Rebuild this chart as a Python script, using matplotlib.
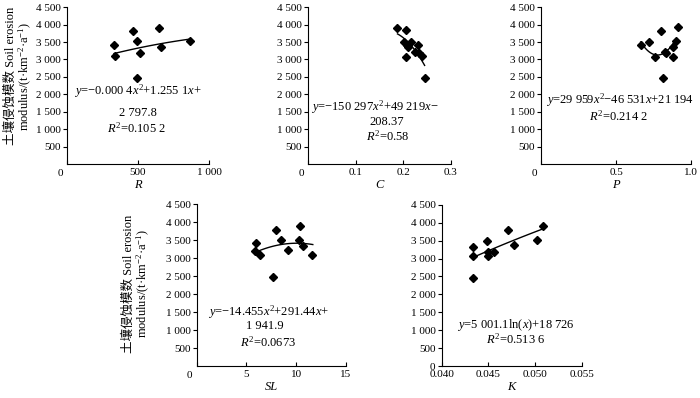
import numpy as np
import matplotlib
matplotlib.use("Agg")
import matplotlib.pyplot as plt

plt.rcParams['font.family'] = ['Liberation Serif', 'Noto Sans CJK SC']
plt.rcParams['mathtext.fontset'] = 'custom'
plt.rcParams['mathtext.rm'] = 'Liberation Serif'
plt.rcParams['mathtext.it'] = 'Liberation Serif:italic'
plt.rcParams['axes.unicode_minus'] = True

# data (soil erosion modulus vs. each factor)
r_x = [331, 341, 467, 495, 514, 491, 649, 661, 866]
r_y = [3404, 3098, 3804, 3538, 3195, 2480, 3910, 3355, 3518]

c_x = [0.188, 0.205, 0.201, 0.207, 0.210, 0.217, 0.231, 0.224, 0.233, 0.239, 0.205, 0.245]
c_y = [3907, 3832, 3498, 3424, 3360, 3500, 3424, 3215, 3180, 3090, 3069, 2480]

p_x = [0.665, 0.718, 0.758, 0.802, 0.827, 0.815, 0.878, 0.882, 0.900, 0.915, 0.835]
p_y = [3404, 3498, 3070, 3813, 3213, 2480, 3355, 3060, 3518, 3918, 3180]

sl_x = [5.94, 5.87, 6.37, 7.95, 8.49, 9.22, 10.43, 10.30, 10.73, 11.58, 7.68]
sl_y = [3407, 3192, 3081, 3785, 3490, 3212, 3896, 3498, 3331, 3081, 2460]

k_x = [0.0434, 0.0434, 0.0434, 0.0448, 0.0450, 0.0450, 0.0456, 0.0471, 0.0477, 0.0502, 0.0508]
k_y = [3331, 3061, 2460, 3490, 3173, 3061, 3173, 3805, 3379, 3507, 3896]

# trend line equations printed on the chart
r_fit = [-0.0004, 1.2551, 2797.8]
c_fit = [-150297, 49219, -208.37]
p_fit = [29959, -46531, 21194]
sl_fit = [-14.455, 291.44, 1941.9]
k_fit = [5001.1, 18726]

y_ticks = [500, 1000, 1500, 2000, 2500, 3000, 3500, 4000, 4500]
ylab = "土壤侵蚀模数 Soil erosion\nmodulus/(t·km$^{-2}$·a$^{-1}$)"
eq_size = 9


def fmt(v):
    s = f"{v:,}".replace(",", " ")
    return s


def setup(ax, xlim, xticks, xlabels, yzero=False, xname=""):
    for s in ['top', 'right']:
        ax.spines[s].set_visible(False)
    ax.set_xlim(xlim)
    ax.set_ylim(0, 4500)
    yt = ([0] if yzero else []) + y_ticks
    ax.set_yticks(yt)
    ax.set_yticklabels([fmt(v) for v in yt])
    ax.set_xticks(xticks)
    ax.set_xticklabels(xlabels)
    ax.tick_params(axis='y', direction='out', length=3, pad=1.5, labelsize=8)
    ax.tick_params(axis='x', direction='in', length=3, pad=3, labelsize=8)
    ax.set_xlabel(xname, fontsize=9, style='italic', labelpad=1)
    if not yzero:
        ax.annotate('0', xy=(0, 0), xycoords='axes fraction', xytext=(-7, -5),
                    textcoords='offset pixels', ha='center', va='top', fontsize=8)


fig = plt.figure(figsize=(7, 3.98), dpi=100)

ax1 = fig.add_axes([0.0957, 0.588, 0.203, 0.394])
ax2 = fig.add_axes([0.44, 0.588, 0.204, 0.394])
ax3 = fig.add_axes([0.773, 0.588, 0.214, 0.394])
ax4 = fig.add_axes([0.281, 0.0804, 0.213, 0.407])
ax5 = fig.add_axes([0.631, 0.0804, 0.2, 0.405])

mk = dict(marker='D', color='black', markersize=4.2, linestyle='none')

# R
ax1.plot(r_x, r_y, **mk)
xs = np.linspace(min(r_x), max(r_x), 100)
ax1.plot(xs, np.polyval(r_fit, xs), color='black', lw=1)
setup(ax1, (0, 1000), [0, 500, 1000], ['', '500', '1 000'], xname='R')
ax1.text(500, 2090, "$y$=−0.000 4$x^2$+1.255 1$x$+", ha='center', va='center', fontsize=eq_size)
ax1.text(500, 1450, "2 797.8", ha='center', va='center', fontsize=eq_size)
ax1.text(490, 1010, "$R^2$=0.105 2", ha='center', va='center', fontsize=eq_size)
ax1.set_ylabel(ylab, fontsize=9, linespacing=1.0)
ax1.yaxis.set_label_coords(-0.235, 0.56)

# C
ax2.plot(c_x, c_y, **mk)
xs = np.linspace(min(c_x), max(c_x), 100)
ax2.plot(xs, np.polyval(c_fit, xs), color='black', lw=1)
setup(ax2, (0, 0.3), [0, 0.1, 0.2, 0.3], ['', '0.1', '0.2', '0.3'], xname='C')
ax2.text(0.141, 1630, "$y$=−150 297$x^2$+49 219$x$−", ha='center', va='center', fontsize=eq_size)
ax2.text(0.166, 1210, "208.37", ha='center', va='center', fontsize=eq_size)
ax2.text(0.168, 780, "$R^2$=0.58", ha='center', va='center', fontsize=eq_size)

# P
ax3.plot(p_x, p_y, **mk)
xs = np.linspace(min(p_x), 0.9, 100)
ax3.plot(xs, np.polyval(p_fit, xs), color='black', lw=1)
setup(ax3, (0, 1.0), [0, 0.5, 1.0], ['', '0.5', '1.0'], xname='P')
ax3.text(0.529, 1830, "$y$=29 959$x^2$−46 531$x$+21 194", ha='center', va='center', fontsize=eq_size)
ax3.text(0.516, 1354, "$R^2$=0.214 2", ha='center', va='center', fontsize=eq_size)

# SL
ax4.plot(sl_x, sl_y, **mk)
xs = np.linspace(min(sl_x), max(sl_x) + 0.1, 100)
ax4.plot(xs, np.polyval(sl_fit, xs), color='black', lw=1)
setup(ax4, (0, 15), [0, 5, 10, 15], ['', '5', '10', '15'], xname='SL')
ax4.text(7.2, 1503, "$y$=−14.455$x^2$+291.44$x$+", ha='center', va='center', fontsize=eq_size)
ax4.text(6.9, 1104, "1 941.9", ha='center', va='center', fontsize=eq_size)
ax4.text(7.2, 668, "$R^2$=0.0673", ha='center', va='center', fontsize=eq_size)
ax4.set_ylabel(ylab, fontsize=9, linespacing=1.0)
ax4.yaxis.set_label_coords(-0.30, 0.51)

# K
ax5.plot(k_x, k_y, **mk)
xs = np.linspace(min(k_x), max(k_x), 100)
ax5.plot(xs, k_fit[0] * np.log(xs) + k_fit[1], color='black', lw=1)
setup(ax5, (0.040, 0.055), [0.040, 0.045, 0.050, 0.055],
      ['0.040', '0.045', '0.050', '0.055'], yzero=True, xname='K')
ax5.text(0.04796, 1137, "$y$=5 001.1ln($x$)+18 726", ha='center', va='center', fontsize=eq_size)
ax5.text(0.04796, 736, "$R^2$=0.513 6", ha='center', va='center', fontsize=eq_size)

fig.savefig("out.png", dpi=100)
